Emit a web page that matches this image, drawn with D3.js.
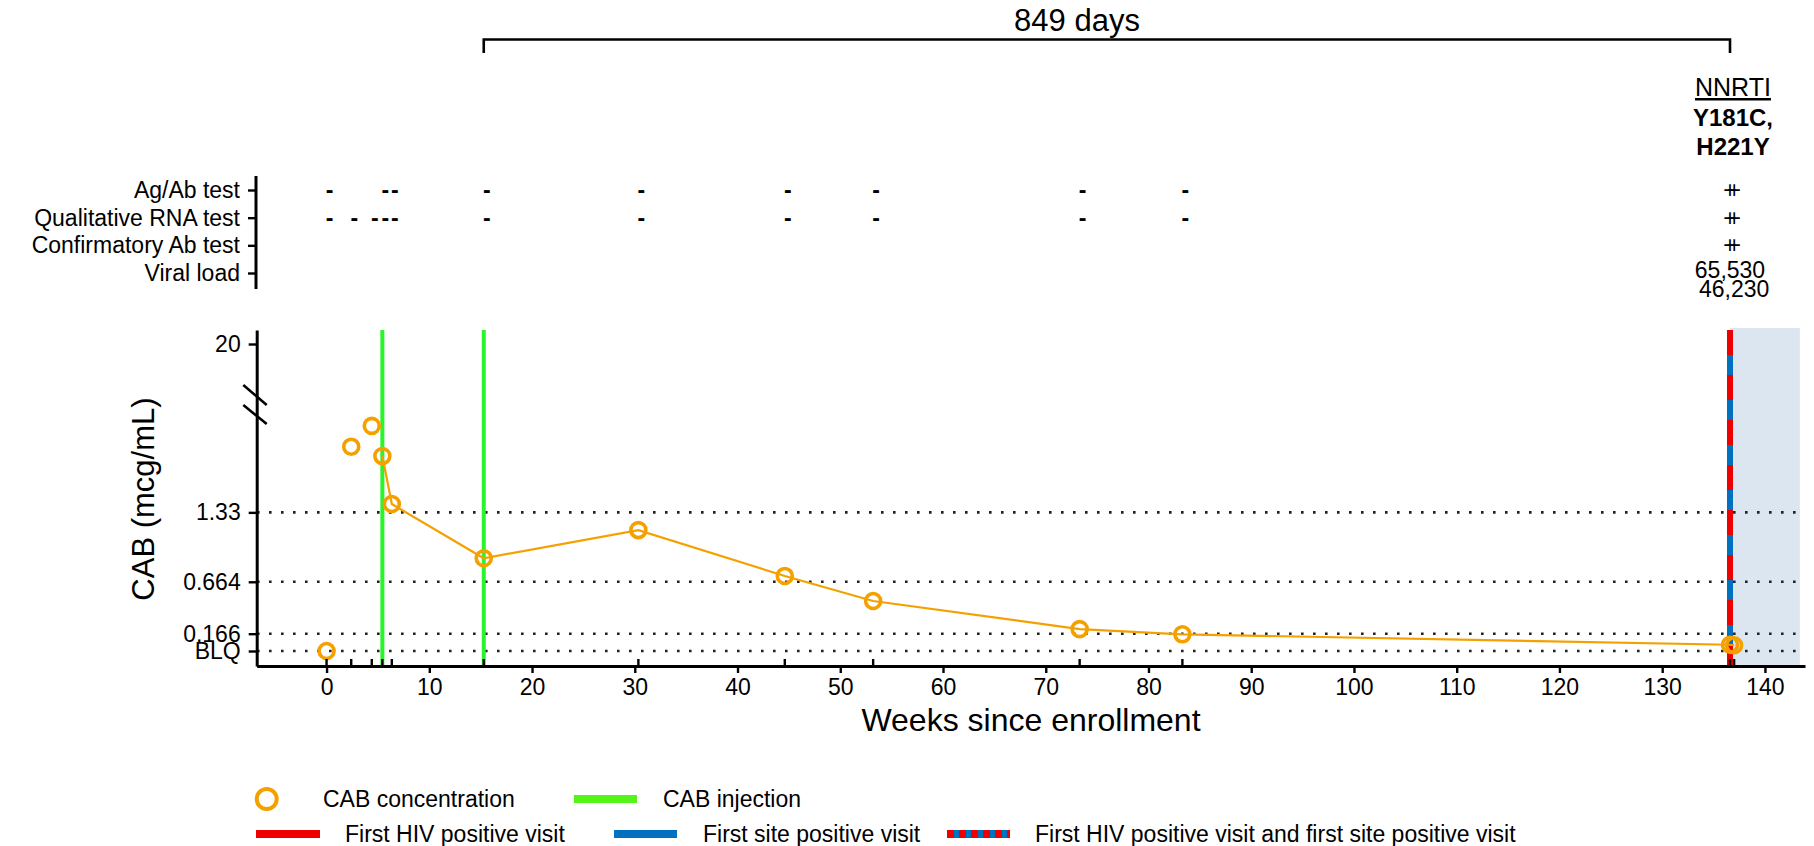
<!DOCTYPE html>
<html>
<head>
<meta charset="UTF-8">
<script src="https://cdn.jsdelivr.net/npm/d3@7"></script>
<style>
body{ margin:0; background:#fff; }
svg text{ font-family:"Liberation Sans", Arial, Helvetica, sans-serif; fill:#000; }
.axis path, .axis line{ stroke:#000; }
</style>
</head>
<body>
<script>

// CAB samples during oral lead-in (not joined by the line)
var oralWeeks = [0, 2.4, 4.4];
var oralConc  = [0, 1.96, 2.16];
// CAB samples after injections (joined)
var cabWeeks = [5.43, 6.35, 15.3, 30.35, 44.6, 53.2, 73.3, 83.3, 136.6, 137.0];
var cabConc  = [1.87, 1.41, 0.89, 1.16, 0.72, 0.48, 0.21, 0.16, 0.06, 0.055];
var injectionWeeks = [5.43, 15.3];
var firstPositiveWeek = 136.6;

var xTicks = [0,10,20,30,40,50,60,70,80,90,100,110,120,130,140];
var yTicks = [0, 0.166, 0.664, 1.33, 20];
var yTickLabels = ["BLQ", "0.166", "0.664", "1.33", "20"];

var testRows = ["Ag/Ab test", "Qualitative RNA test", "Confirmatory Ab test", "Viral load"];
var agabNegWeeks = [0, 5.43, 6.35, 15.3, 30.35, 44.6, 53.2, 73.3, 83.3];
var rnaNegWeeks = [0, 2.4, 4.4, 5.43, 6.35, 15.3, 30.35, 44.6, 53.2, 73.3, 83.3];
var posWeeks = [136.6, 137.0];
var viralLoads = ["65,530", "46,230"];
var mutations = ["Y181C,", "H221Y"];

var width = 1814, height = 846;
var orange = "#f4a100", green = "#2af52a", red = "#ee0000", blue = "#0070c0";

var svg = d3.select("body").append("svg")
    .attr("width", width)
    .attr("height", height);

var x = d3.scaleLinear().domain([-6.8, 143.9]).range([256.7, 1805]);
var y = d3.scaleLinear().domain([-0.144, 0, 2.36, 20, 21.4]).range([666, 651, 405, 344, 330]);

// shaded after first positive
svg.append("rect")
    .attr("x", x(firstPositiveWeek))
    .attr("y", 328)
    .attr("width", x(143.4) - x(firstPositiveWeek))
    .attr("height", 666 - 328)
    .attr("fill", "#dce6f1");

// dotted reference lines
svg.selectAll(".grid")
    .data(yTicks.filter(function(d){ return d < 20; }))
    .enter().append("line")
    .attr("x1", 257).attr("x2", x(143.4))
    .attr("y1", function(d){ return y(d); })
    .attr("y2", function(d){ return y(d); })
    .attr("stroke", "#222")
    .attr("stroke-width", 2.6)
    .attr("stroke-dasharray", "2.6,9.4");

// injections
svg.selectAll(".inj")
    .data(injectionWeeks)
    .enter().append("line")
    .attr("x1", function(d){ return x(d); })
    .attr("x2", function(d){ return x(d); })
    .attr("y1", 330).attr("y2", 666)
    .attr("stroke", green)
    .attr("stroke-width", 4);

// first positive visit line (red over blue)
svg.append("line")
    .attr("x1", x(firstPositiveWeek)).attr("x2", x(firstPositiveWeek))
    .attr("y1", 330).attr("y2", 668)
    .attr("stroke", blue).attr("stroke-width", 6);
svg.append("line")
    .attr("x1", x(firstPositiveWeek)).attr("x2", x(firstPositiveWeek))
    .attr("y1", 330).attr("y2", 668)
    .attr("stroke", red).attr("stroke-width", 6)
    .attr("stroke-dasharray", "25,20");

// concentration line
var cabData = cabWeeks.map(function(w, i){ return {w: w, c: cabConc[i]}; });
var oralData = oralWeeks.map(function(w, i){ return {w: w, c: oralConc[i]}; });

svg.append("path")
    .datum(cabData)
    .attr("fill", "none")
    .attr("stroke", orange)
    .attr("stroke-width", 2.2)
    .attr("d", d3.line().x(function(d){ return x(d.w); }).y(function(d){ return y(d.c); }));

svg.selectAll(".pt")
    .data(oralData.concat(cabData))
    .enter().append("circle")
    .attr("cx", function(d){ return x(d.w); })
    .attr("cy", function(d){ return y(d.c); })
    .attr("r", 7.5)
    .attr("fill", "none")
    .attr("stroke", orange)
    .attr("stroke-width", 3.6);

// axes
var gX = svg.append("g")
    .attr("class", "axis")
    .attr("transform", "translate(0,666)")
    .call(d3.axisBottom(x).tickValues(xTicks).tickSize(7).tickSizeOuter(0).tickPadding(6));
gX.select(".domain").attr("stroke-width", 3.2);
gX.selectAll(".tick line").attr("stroke-width", 2.4);
gX.selectAll(".tick text").attr("font-size", 23);

// sample ticks (inside)
svg.selectAll(".rug")
    .data(oralWeeks.concat(cabWeeks))
    .enter().append("line")
    .attr("x1", function(d){ return x(d); })
    .attr("x2", function(d){ return x(d); })
    .attr("y1", 665).attr("y2", 659)
    .attr("stroke", "#000").attr("stroke-width", 2.4);

var gY = svg.append("g")
    .attr("class", "axis")
    .attr("transform", "translate(256.7,0)")
    .call(d3.axisLeft(y).tickValues(yTicks).tickSize(8).tickSizeOuter(0).tickPadding(8)
        .tickFormat(function(d, i){ return yTickLabels[i]; }));
gY.select(".domain").attr("stroke-width", 3);
gY.selectAll(".tick line").attr("stroke-width", 2.4);
gY.selectAll(".tick text").attr("font-size", 23);

// axis break
[[385, 405], [405, 424]].forEach(function(b){
    svg.append("line")
        .attr("x1", 243.3).attr("y1", b[0])
        .attr("x2", 266.7).attr("y2", b[1])
        .attr("stroke", "#000").attr("stroke-width", 2.6);
});

svg.append("text")
    .attr("transform", "translate(143,499) rotate(-90)")
    .attr("text-anchor", "middle")
    .attr("dy", "0.35em")
    .attr("font-size", 31)
    .text("CAB (mcg/mL)");

svg.append("text")
    .attr("x", 1031)
    .attr("y", 731)
    .attr("font-size", 32)
    .attr("text-anchor", "middle")
    .text("Weeks since enrollment");

// test panel
var row = d3.scalePoint().domain(testRows).range([190, 273]);

var gT = svg.append("g")
    .attr("class", "axis")
    .attr("transform", "translate(256,0)")
    .call(d3.axisLeft(row).tickSize(8).tickSizeOuter(0).tickPadding(8));
gT.select(".domain").attr("d", "M0,176V289").attr("stroke-width", 3);
gT.selectAll(".tick line").attr("stroke-width", 2.4);
gT.selectAll(".tick text").attr("font-size", 23);

function marks(weeks, rowName, sym){
    svg.selectAll(null)
        .data(weeks)
        .enter().append("text")
        .attr("x", function(d){ return x(d) + (sym == "-" ? 3 : 0); })
        .attr("y", row(rowName))
        .attr("dy", "0.35em")
        .attr("text-anchor", "middle")
        .attr("font-size", 23)
        .attr("font-weight", sym == "-" ? "bold" : "normal")
        .text(sym);
}
marks(agabNegWeeks, "Ag/Ab test", "-");
marks(rnaNegWeeks, "Qualitative RNA test", "-");
marks(posWeeks, "Ag/Ab test", "+");
marks(posWeeks, "Qualitative RNA test", "+");
marks(posWeeks, "Confirmatory Ab test", "+");

svg.selectAll(".vl")
    .data(viralLoads)
    .enter().append("text")
    .attr("x", function(d, i){ return x(posWeeks[i]); })
    .attr("y", function(d, i){ return 270 + i * 19; })
    .attr("dy", "0.35em")
    .attr("text-anchor", "middle")
    .attr("font-size", 23)
    .text(function(d){ return d; });

// resistance annotation
var ax = x(posWeeks[0]) + 3;
svg.append("text")
    .attr("x", ax).attr("y", 96)
    .attr("text-anchor", "middle")
    .attr("font-size", 25)
    .attr("text-decoration", "underline")
    .text("NNRTI");
svg.selectAll(".mut")
    .data(mutations)
    .enter().append("text")
    .attr("x", ax)
    .attr("y", function(d, i){ return 126 + i * 29; })
    .attr("text-anchor", "middle")
    .attr("font-size", 24)
    .attr("font-weight", "bold")
    .text(function(d){ return d; });

// bracket
var bx0 = x(injectionWeeks[1]), bx1 = x(firstPositiveWeek);
svg.append("path")
    .attr("d", "M" + bx0 + ",53V39.5H" + bx1 + "V53")
    .attr("fill", "none")
    .attr("stroke", "#000")
    .attr("stroke-width", 2.6);
svg.append("text")
    .attr("x", 1077).attr("y", 31)
    .attr("text-anchor", "middle")
    .attr("font-size", 31)
    .text("849 days");

// legend
var leg = svg.append("g");
leg.append("circle")
    .attr("cx", 266.7).attr("cy", 799).attr("r", 10)
    .attr("fill", "none").attr("stroke", orange).attr("stroke-width", 4);
leg.append("text").attr("x", 323).attr("y", 799).attr("dy", "0.35em")
    .attr("font-size", 23).text("CAB concentration");
leg.append("line").attr("x1", 574).attr("x2", 637).attr("y1", 799).attr("y2", 799)
    .attr("stroke", "#55f51a").attr("stroke-width", 8);
leg.append("text").attr("x", 663).attr("y", 799).attr("dy", "0.35em")
    .attr("font-size", 23).text("CAB injection");

leg.append("line").attr("x1", 256).attr("x2", 320).attr("y1", 834).attr("y2", 834)
    .attr("stroke", red).attr("stroke-width", 8);
leg.append("text").attr("x", 345).attr("y", 834).attr("dy", "0.35em")
    .attr("font-size", 23).text("First HIV positive visit");
leg.append("line").attr("x1", 614).attr("x2", 677).attr("y1", 834).attr("y2", 834)
    .attr("stroke", blue).attr("stroke-width", 8);
leg.append("text").attr("x", 703).attr("y", 834).attr("dy", "0.35em")
    .attr("font-size", 23).text("First site positive visit");
leg.append("line").attr("x1", 947).attr("x2", 1010).attr("y1", 834).attr("y2", 834)
    .attr("stroke", blue).attr("stroke-width", 8);
leg.append("line").attr("x1", 947).attr("x2", 1010).attr("y1", 834).attr("y2", 834)
    .attr("stroke", red).attr("stroke-width", 8).attr("stroke-dasharray", "7,5");
leg.append("text").attr("x", 1035).attr("y", 834).attr("dy", "0.35em")
    .attr("font-size", 23).text("First HIV positive visit and first site positive visit");

</script>
</body>
</html>
